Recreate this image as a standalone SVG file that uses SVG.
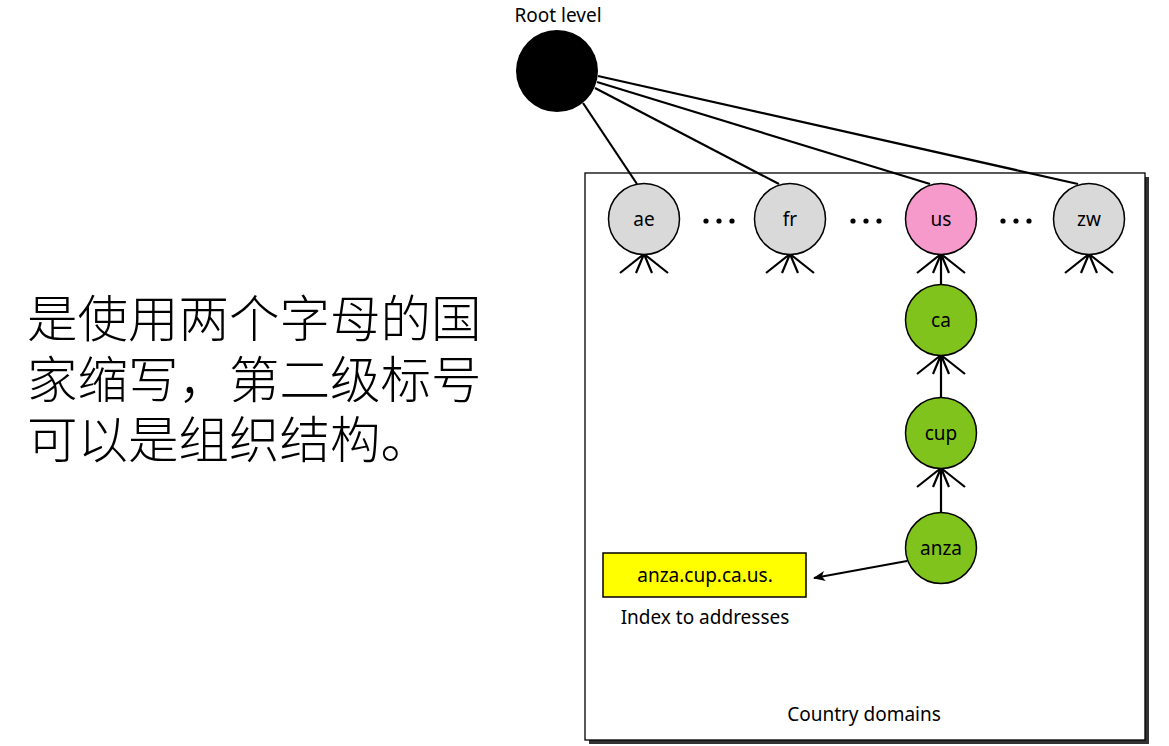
<svg xmlns="http://www.w3.org/2000/svg" width="1169" height="746" viewBox="0 0 1169 746">
<style>
.lbl{font-family:"Noto Sans","Open Sans",sans-serif;font-size:19px;fill:#000;text-anchor:middle}
.node{stroke:#000;stroke-width:1.5}
.edge{stroke:#000;stroke-width:2.2;fill:none}
.cn{font-family:"Noto Sans CJK SC",sans-serif;font-size:50.5px;font-weight:300;fill:#000}
</style>
<defs>
<marker id="arr" viewBox="0 0 12 10" refX="11" refY="5" markerWidth="12" markerHeight="10" markerUnits="userSpaceOnUse" orient="auto">
<path d="M0,0 L12,5 L0,10 L3,5 Z" fill="#000"/>
</marker>
<g id="fan"><path d="M0,0 L-24,19 M0,0 L-8,19 M0,0 L8,19 M0,0 L24,19" stroke="#000" stroke-width="2.2" fill="none"/></g>
</defs>
<rect width="1169" height="746" fill="#fff"/>
<g id="chinese">
<text class="cn"><tspan x="27" y="337">是使用两个字母的国</tspan><tspan x="27" y="398">家缩写，第二级标号</tspan><tspan x="27" y="458">可以是组织结构。</tspan></text>
</g>
<g id="country-box">
<rect x="589" y="177" width="560" height="567" fill="#333"/>
<rect x="585" y="173" width="560" height="567" fill="#fff" stroke="#000" stroke-width="1.3"/>
<text class="lbl" x="864" y="721">Country domains</text>
</g>
<g id="connectors">
<path class="edge" d="M583,103 L637,184"/>
<path class="edge" d="M595,88 L779,184"/>
<path class="edge" d="M597,82 L930,184"/>
<path class="edge" d="M598,76 L1078,184"/>
<use href="#fan" x="644" y="254"/>
<use href="#fan" x="790" y="254"/>
<use href="#fan" x="941" y="254"/>
<use href="#fan" x="1089" y="254"/>
<path class="edge" d="M941,254 L941,285"/>
<use href="#fan" x="941" y="355"/>
<path class="edge" d="M941,355 L941,398"/>
<use href="#fan" x="941" y="468"/>
<path class="edge" d="M941,468 L941,513"/>
<path class="edge" d="M907,561 L814,578" marker-end="url(#arr)"/>
</g>
<g id="dots" fill="#000">
<circle cx="706" cy="221" r="2.6"/><circle cx="719" cy="221" r="2.6"/><circle cx="732" cy="221" r="2.6"/>
<circle cx="853" cy="221" r="2.6"/><circle cx="866" cy="221" r="2.6"/><circle cx="879" cy="221" r="2.6"/>
<circle cx="1003" cy="221" r="2.6"/><circle cx="1016" cy="221" r="2.6"/><circle cx="1029" cy="221" r="2.6"/>
</g>
<g id="root">
<circle cx="557" cy="71" r="41" fill="#000"/>
<text class="lbl" x="558" y="22">Root level</text>
</g>
<g id="ae"><circle class="node" cx="644" cy="219" r="35.5" fill="#d9d9d9"/><text class="lbl" x="644" y="226">ae</text></g>
<g id="fr"><circle class="node" cx="790" cy="219" r="35.5" fill="#d9d9d9"/><text class="lbl" x="790" y="226">fr</text></g>
<g id="us"><circle class="node" cx="941" cy="219" r="35.5" fill="#f59acb"/><text class="lbl" x="941" y="226">us</text></g>
<g id="zw"><circle class="node" cx="1089" cy="219" r="35.5" fill="#d9d9d9"/><text class="lbl" x="1089" y="226">zw</text></g>
<g id="ca"><circle class="node" cx="941" cy="320" r="35.5" fill="#80c31c"/><text class="lbl" x="941" y="327">ca</text></g>
<g id="cup"><circle class="node" cx="941" cy="433" r="35.5" fill="#80c31c"/><text class="lbl" x="941" y="440">cup</text></g>
<g id="anza"><circle class="node" cx="941" cy="548" r="35.5" fill="#80c31c"/><text class="lbl" x="941" y="555">anza</text></g>
<g id="index">
<rect x="603" y="553" width="203" height="44" fill="#ffff00" stroke="#000" stroke-width="1.5"/>
<text class="lbl" x="705" y="582">anza.cup.ca.us.</text>
<text class="lbl" x="705" y="624">Index to addresses</text>
</g>
</svg>
